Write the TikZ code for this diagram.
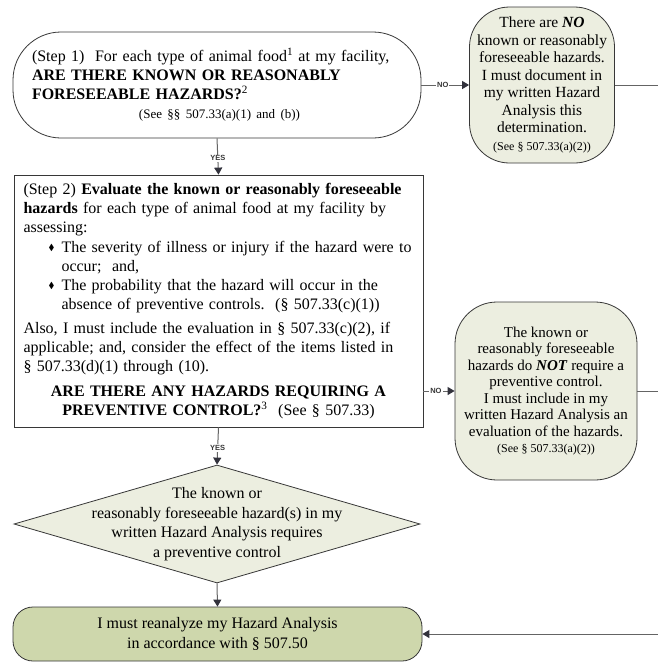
\documentclass[tikz,border=0pt]{standalone}
\usepackage{fontspec}
\setmainfont{Liberation Serif}
\newfontfamily\lblfont{Liberation Sans}
\usepackage{amssymb}
\usetikzlibrary{shapes.geometric,arrows.meta}
\definecolor{lineg}{RGB}{100,100,100}
\definecolor{edgec}{RGB}{55,55,55}
\definecolor{palefill}{RGB}{236,238,224}
\definecolor{olivefill}{RGB}{206,215,172}
\definecolor{tipc}{RGB}{50,50,60}
\newcommand\bul{\makebox[13pt][l]{\raisebox{2pt}{\scalebox{0.55}{$\blacklozenge$}}}}
\tikzset{
  box/.style={draw=edgec, line width=0.8pt, inner sep=0pt},
  conn/.style={draw=lineg, line width=1pt},
  arr/.style={conn, -{Triangle[width=8pt,length=7pt,color=tipc]}},
  yn/.style={font=\lblfont\bfseries\fontsize{7.5}{8}\selectfont, text=edgec, fill=white, inner sep=1pt},
  txt/.style={font=\fontsize{16}{19}\selectfont},
}
\begin{document}
\begin{tikzpicture}[x=1pt,y=-1pt]
\useasboundingbox (0,0) rectangle (658,662);
\fill[white] (0,0) rectangle (658,662);

% Step 1
\node[box, rounded corners=48pt, minimum width=408pt, minimum height=106pt,
      text width=370pt, align=left, txt] (s1) at (217,85)
 {(Step 1)\ \ For each type of animal food\textsuperscript{1} at my facility,\\
  \textbf{ARE THERE KNOWN OR REASONABLY}\\
  \textbf{FORESEEABLE HAZARDS?}\textsuperscript{2}\\
  \hspace*{107pt}{\fontsize{13}{15}\selectfont (See §§ 507.33(a)(1) and (b))}};

% No hazards oval
\node[box, fill=palefill, rounded corners=40pt, minimum width=145pt, minimum height=156pt,
      align=center, font=\fontsize{15.5}{17.5}\selectfont] (g1) at (542,85)
 {There are \textbf{\textit{NO}}\\ known or reasonably\\ foreseeable hazards.\\
  I must document in\\ my written Hazard\\ Analysis this\\ determination.\\
  {\fontsize{12}{14}\selectfont (See § 507.33(a)(2))}};

% Step 2
\node[box, rectangle, minimum width=409pt, minimum height=252pt, text width=390pt, txt] (s2) at (218.5,301)
 {{\raggedright
  (Step 2) \textbf{Evaluate the known or reasonably foreseeable}\\
  \textbf{hazards} for each type of animal food at my facility by\\
  assessing:\\[1pt]
  \hspace*{25pt}\bul The severity of illness or injury if the hazard were to\\
  \hspace*{38pt}occur;\ \ and,\\
  \hspace*{25pt}\bul The probability that the hazard will occur in the\\
  \hspace*{38pt}absence of preventive controls.\ \ (§ 507.33(c)(1))\\[5pt]
  Also, I must include the evaluation in § 507.33(c)(2), if\\
  applicable; and, consider the effect of the items listed in\\
  § 507.33(d)(1) through (10).\par}
  \vspace{6pt}
  {\centering\textbf{ARE THERE ANY HAZARDS REQUIRING A}\\
  \textbf{PREVENTIVE CONTROL?}\textsuperscript{3}\ \ (See § 507.33)\par}};

% Do not require oval
\node[box, fill=palefill, rounded corners=42pt, minimum width=182pt, minimum height=178pt,
      align=center, font=\fontsize{15}{16.5}\selectfont] (g2) at (546,391)
 {The known or\\ reasonably foreseeable\\ hazards do \textbf{\textit{NOT}} require a\\
  preventive control.\\ I must include in my\\ written Hazard Analysis an\\
  evaluation of the hazards.\\ {\fontsize{12}{14}\selectfont (See § 507.33(a)(2))}};

% Diamond
\node[box, diamond, fill=palefill, minimum width=406pt, minimum height=118pt] (d) at (217,524) {};
\node[align=center, font=\fontsize{16}{19.5}\selectfont] (dt) at (d.center)
 {The known or\\ reasonably foreseeable hazard(s) in my\\ written Hazard Analysis requires\\ a preventive control};

% Final
\node[box, fill=olivefill, rounded corners=20pt, minimum width=409pt, minimum height=54pt,
      align=center, font=\fontsize{16}{20}\selectfont] (f) at (217.5,634)
 {I must reanalyze my Hazard Analysis\\ in accordance with § 507.50};

% edge coordinates
\coordinate (e1) at (658,85);
\coordinate (e2) at (658,391);
\coordinate (e3) at (658,634);

% connectors
\draw[arr] (s1.south) -- node[yn, pos=0.55]{YES} (s2.north);
\draw[arr] (s1.east) -- node[yn, pos=0.45]{NO} (g1.west);
\draw[conn] (g1.east) -- (e1);
\draw[arr] (s2.east |- g2.west) -- node[yn, pos=0.4]{NO} (g2.west);
\draw[conn] (g2.east) -- (e2);
\draw[arr] (s2.south) -- node[yn, pos=0.55]{YES} (d.north);
\draw[arr] (d.south) -- (f.north);
\draw[arr] (e3) -- (f.east);
\end{tikzpicture}
\end{document}
